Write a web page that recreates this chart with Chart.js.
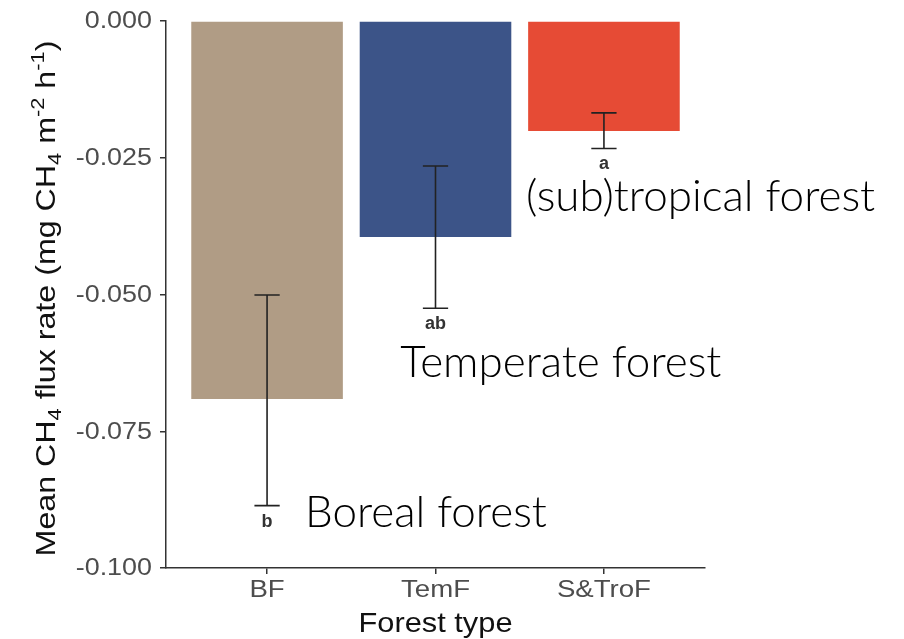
<!DOCTYPE html>
<html>
<head>
<meta charset="utf-8">
<script src="https://cdn.jsdelivr.net/npm/chart.js@4.4.0/dist/chart.umd.min.js"></script>
<style>
  html, body { margin: 0; padding: 0; background: #fff; }
  #wrap { width: 904px; height: 639px; }
</style>
</head>
<body>
<div id="wrap"><canvas id="fluxChart"></canvas></div>
<script>
// data
var categories = ['BF', 'TemF', 'S&TroF'];
var meanFlux = [-0.0691, -0.0395, -0.0201];
var errUpper = [-0.0501, -0.0265, -0.0168];
var errLower = [-0.0886, -0.0525, -0.0233];
var groupLetters = ['b', 'ab', 'a'];
var yTicks = [0, -0.025, -0.05, -0.075, -0.1];
var yTickLabels = ['0.000', '-0.025', '-0.050', '-0.075', '-0.100'];
var barColors = ['#B09C85', '#3C5488', '#E64B35'];

// annotation text, anchored in axis units (x: category position, y: flux value)
var notes = [
    { text: 'Boreal forest', x: 1.225, y: -0.0925 },
    { text: 'Temperate forest', x: 1.79, y: -0.0651 },
    { text: '(sub)tropical forest', x: 2.538, y: -0.0347 }
];

var axisFont = '"Liberation Sans", Arial, sans-serif';
var noteFont = '300 44px Lato, "Noto Sans", sans-serif';

function stretchText(ctx, text, x, y, sx) {
    ctx.save();
    ctx.translate(x, y);
    ctx.scale(sx, 1);
    ctx.fillText(text, 0, 0);
    ctx.restore();
}

var extrasPlugin = {
    id: 'extras',
    afterDatasetsDraw: function (chart) {
        var ctx = chart.ctx;
        var xs = chart.scales.x, ys = chart.scales.y;

        // error bars
        ctx.save();
        ctx.strokeStyle = '#222';
        ctx.lineWidth = 1.6;
        for (var i = 0; i < categories.length; i++) {
            var cx = xs.getPixelForValue(i + 1);
            var x0 = xs.getPixelForValue(i + 1 - 0.075);
            var x1 = xs.getPixelForValue(i + 1 + 0.075);
            var yt = ys.getPixelForValue(errUpper[i]);
            var yb = ys.getPixelForValue(errLower[i]);
            ctx.beginPath();
            ctx.moveTo(cx, yt); ctx.lineTo(cx, yb);
            ctx.moveTo(x0, yt); ctx.lineTo(x1, yt);
            ctx.moveTo(x0, yb); ctx.lineTo(x1, yb);
            ctx.stroke();

            ctx.fillStyle = '#333';
            ctx.font = 'bold 18px ' + axisFont;
            ctx.textAlign = 'center';
            ctx.textBaseline = 'alphabetic';
            ctx.fillText(groupLetters[i], cx, yb + 21);
        }
        ctx.restore();

        // big annotation labels
        ctx.save();
        ctx.fillStyle = '#000';
        ctx.font = noteFont;
        ctx.textAlign = 'left';
        ctx.textBaseline = 'alphabetic';
        notes.forEach(function (n) {
            ctx.fillText(n.text, xs.getPixelForValue(n.x), ys.getPixelForValue(n.y));
        });
        ctx.restore();
    },
    afterDraw: function (chart) {
        var ctx = chart.ctx;
        var xs = chart.scales.x, ys = chart.scales.y;
        var area = chart.chartArea;

        ctx.save();
        // y tick labels
        ctx.fillStyle = '#4d4d4d';
        ctx.font = '23px ' + axisFont;
        ctx.textAlign = 'right';
        ctx.textBaseline = 'middle';
        yTicks.forEach(function (v, i) {
            stretchText(ctx, yTickLabels[i], area.left - 14, ys.getPixelForValue(v) + 1, 1.17);
        });

        // x tick labels
        ctx.font = '24px ' + axisFont;
        ctx.textAlign = 'center';
        ctx.textBaseline = 'alphabetic';
        categories.forEach(function (c, i) {
            stretchText(ctx, c, xs.getPixelForValue(i + 1), area.bottom + 29, 1.15);
        });

        // x title
        ctx.fillStyle = '#111';
        ctx.font = '28px ' + axisFont;
        stretchText(ctx, 'Forest type', (area.left + area.right) / 2, area.bottom + 64, 1.1);

        // y title with sub/superscripts
        var parts = [
            { t: 'Mean CH' }, { t: '4', d: 6 }, { t: ' flux rate (mg CH' }, { t: '4', d: 6 },
            { t: ' m' }, { t: '-2', d: -11 }, { t: ' h' }, { t: '-1', d: -11 }, { t: ')' }
        ];
        var sx = 1.15;
        var total = 0;
        parts.forEach(function (p) {
            ctx.font = (p.d ? '19px ' : '28px ') + axisFont;
            p.w = ctx.measureText(p.t).width * sx;
            total += p.w;
        });
        ctx.translate(55, (area.top + area.bottom) / 2 + 4);
        ctx.rotate(-Math.PI / 2);
        ctx.textAlign = 'left';
        var pos = -total / 2;
        parts.forEach(function (p) {
            ctx.font = (p.d ? '19px ' : '28px ') + axisFont;
            stretchText(ctx, p.t, pos, p.d || 0, sx);
            pos += p.w;
        });
        ctx.restore();
    }
};

var ctx = document.getElementById('fluxChart').getContext('2d');
var fluxChart = new Chart(ctx, {
    type: 'bar',
    data: {
        datasets: [{
            data: meanFlux.map(function (v, i) { return { x: i + 1, y: v }; }),
            backgroundColor: barColors,
            borderWidth: 0,
            barPercentage: 0.9,
            categoryPercentage: 1
        }]
    },
    options: {
        responsive: true,
        maintainAspectRatio: false,
        animation: false,
        layout: { padding: { top: 21, right: 199, left: 0, bottom: 0 } },
        plugins: { legend: { display: false }, tooltip: { enabled: false } },
        scales: {
            x: {
                type: 'linear',
                min: 0.4,
                max: 3.6,
                offset: false,
                afterBuildTicks: function (scale) {
                    scale.ticks = categories.map(function (c, i) { return { value: i + 1 }; });
                },
                afterFit: function (scale) { scale.height = 71; },
                ticks: { display: false },
                grid: { display: true, offset: false, drawOnChartArea: false, drawTicks: true, tickLength: 6, color: '#333', lineWidth: 1.5 },
                border: { display: true, color: '#333', width: 1.5 }
            },
            y: {
                min: -0.1,
                max: 0,
                afterBuildTicks: function (scale) {
                    scale.ticks = yTicks.map(function (v) { return { value: v }; });
                },
                afterFit: function (scale) { scale.width = 166; },
                ticks: { display: false },
                grid: { display: true, drawOnChartArea: false, drawTicks: true, tickLength: 6, color: '#333', lineWidth: 1.5 },
                border: { display: true, color: '#333', width: 1.5 }
            }
        }
    },
    plugins: [extrasPlugin]
});
</script>
</body>
</html>
